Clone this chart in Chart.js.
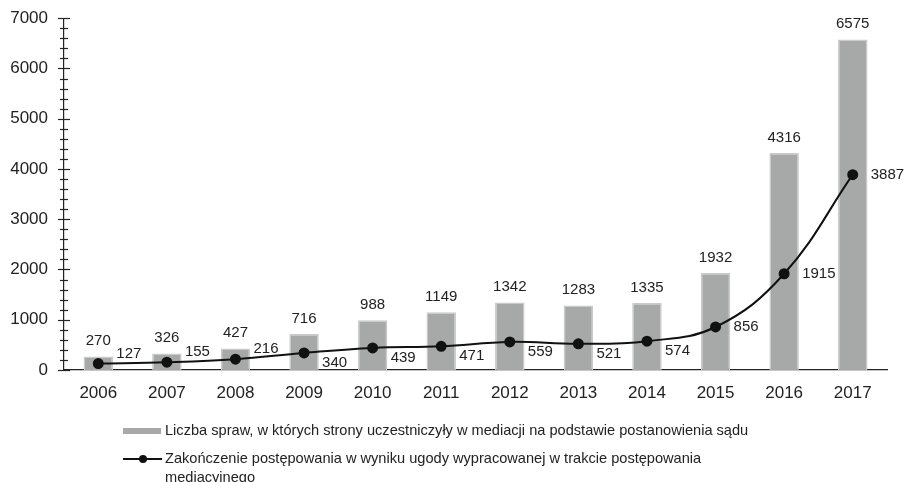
<!DOCTYPE html>
<html>
<head>
<meta charset="utf-8">
<script src="https://cdn.jsdelivr.net/npm/chart.js@4"></script>
<style>
	body { margin:0; background:#fff; font-family:'Liberation Sans', Arial, sans-serif; }
	#wrap { position:relative; width:908px; height:482px; }
	.leg { position:absolute; left:123px; font-size:14.6px; color:#222; line-height:19px; }
	.leg .sw { position:absolute; left:0; }
	.leg .tx { position:absolute; left:42px; top:0; white-space:nowrap; }
</style>
</head>
<body>
<div id="wrap">
	<canvas id="c" width="908" height="482"></canvas>
	<div class="leg" style="top:421px;">
		<div class="sw" style="top:7px; width:38px; height:6px; background:#a7a9a8;"></div>
		<div class="tx">Liczba spraw, w których strony uczestniczyły w mediacji na podstawie postanowienia sądu</div>
	</div>
	<div class="leg" style="top:449px;">
		<div class="sw" style="top:9px; width:39px; height:2px; background:#111;"></div>
		<div class="sw" style="top:6px; left:16px; width:8px; height:8px; border-radius:50%; background:#111;"></div>
		<div class="tx">Zakończenie postępowania w wyniku ugody wypracowanej w trakcie postępowania<br>mediacyjnego</div>
	</div>
</div>
<script>
const years = ['2006','2007','2008','2009','2010','2011','2012','2013','2014','2015','2016','2017']
const cases = [270, 326, 427, 716, 988, 1149, 1342, 1283, 1335, 1932, 4316, 6575]
const settled = [127, 155, 216, 340, 439, 471, 559, 521, 574, 856, 1915, 3887]
// where the line labels sit next to their points
const settledLabelPos = ['up','up','up','down','down','down','down','down','down','mid','mid','mid']

const labelDy = { up:-10, down:10, mid:0 }
const font = '"Liberation Sans", Arial, sans-serif'

const yTicks = {
	id: 'yTicks',
	afterDraw: c => {
		const ctx = c.ctx, s = c.scales.y, x = s.right
		ctx.save()
		ctx.strokeStyle = '#222'
		ctx.lineWidth = 1.2
		s.ticks.forEach(t => {
			const y = Math.round(s.getPixelForValue(t.value)) + 0.5
			const l = t.value % 1000 === 0 ? 6 : 4
			ctx.beginPath(); ctx.moveTo(x - l, y); ctx.lineTo(x + l, y); ctx.stroke()
		})
		ctx.restore()
	}
}

const valueLabels = {
	id: 'valueLabels',
	afterDatasetsDraw: c => {
		const ctx = c.ctx
		ctx.save()
		ctx.font = '15px ' + font
		ctx.fillStyle = '#222'
		c.getDatasetMeta(1).data.forEach((b, i) => {
			ctx.textAlign = 'center'; ctx.textBaseline = 'bottom'
			ctx.fillText(cases[i], b.x, b.y - 8)
		})
		c.getDatasetMeta(0).data.forEach((p, i) => {
			ctx.textAlign = 'left'; ctx.textBaseline = 'middle'
			ctx.fillText(settled[i], p.x + 18, p.y + labelDy[settledLabelPos[i]])
		})
		ctx.restore()
	}
}

new Chart(document.getElementById('c'), {
	data: {
		labels: years,
		datasets: [{
			type: 'line',
			label: 'Zakończenie postępowania w wyniku ugody wypracowanej w trakcie postępowania mediacyjnego',
			data: settled,
			borderColor: '#111',
			backgroundColor: '#111',
			borderWidth: 2,
			pointRadius: 4.5,
			pointHoverRadius: 4.5,
			tension: 0.4,
			order: 0,
		},
		{
			type: 'bar',
			label: 'Liczba spraw, w których strony uczestniczyły w mediacji na podstawie postanowienia sądu',
			data: cases,
			backgroundColor: '#a7a9a8',
			borderColor: '#c9cac9',
			borderWidth: 1.5,
			barPercentage: 0.43,
			categoryPercentage: 1,
			order: 1,
		}]
	},
	options: {
		responsive: false,
		animation: false,
		layout: { padding: { left: 0, right: 21, top: 9, bottom: 82 } },
		plugins: { legend: { display: false }, tooltip: { enabled: false } },
		scales: {
			x: {
				grid: { display: false },
				border: { color: '#222', width: 1.2 },
				ticks: { color: '#222', font: { size: 17, family: font }, padding: 5 },
				afterFit: s => { s.height = 30 }
			},
			y: {
				min: 0, max: 7000,
				grid: { display: false },
				border: { color: '#222', width: 1.2 },
				ticks: {
					stepSize: 200,
					autoSkip: false,
					color: '#222',
					font: { size: 17, family: font },
					padding: 8,
					callback: v => v % 1000 === 0 ? v : ''
				},
				afterFit: s => { s.width = 64 }
			}
		}
	},
	plugins: [yTicks, valueLabels]
})
</script>
</body>
</html>
